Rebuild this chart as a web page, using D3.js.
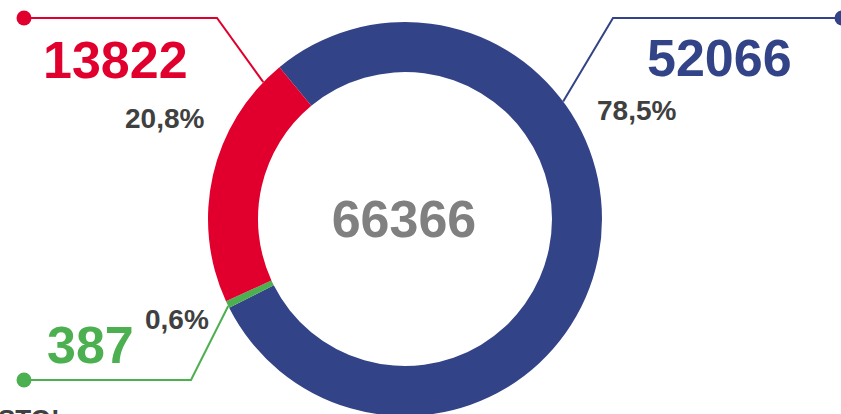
<!DOCTYPE html>
<meta charset="utf-8">
<style>
body { margin: 0; background: #fff; }
svg { display: block; font-family: Arial, "Liberation Sans", sans-serif; font-weight: bold; }
</style>
<svg width="841" height="414"></svg>
<script src="https://cdn.jsdelivr.net/npm/d3@7"></script>
<script>
// data
var keys = ["azul", "verde", "rojo"];
var values = [52066, 387, 13822];
var total = 66366;
var colors = ["#334387", "#4caf50", "#e1002d"];

var svg = d3.select("svg"),
    cx = 405, cy = 219,
    rOuter = 197, rInner = 147;

var g = svg.append("g").attr("transform", "translate(" + cx + "," + cy + ")");

var start = -39.6 * Math.PI / 180;
var pie = d3.pie().sort(null).startAngle(start).endAngle(start + 2 * Math.PI);
var arc = d3.arc().innerRadius(rInner).outerRadius(rOuter);

var arcs = pie(values);

g.selectAll("path.slice")
  .data(arcs)
  .enter().append("path")
    .attr("class", "slice")
    .attr("d", arc)
    .attr("fill", function(d, i) { return colors[i]; });

// leader lines: anchor angle on the ring, elbow, end dot
var leaders = [
  {angle: 53.4, elbow: [613, 18], dot: [842, 18], val: [647, 76], pct: [597, 120]},
  {angle: -116.2, elbow: [191, 380], dot: [24, 380], val: [47, 363], pct: [145, 329]},
  {angle: -46, elbow: [217, 18], dot: [24, 18], val: [43, 78], pct: [125, 128]}
];

var fmtPct = function(v) { return d3.format(".1f")(v * 100).replace(".", ",") + "%"; };

leaders.forEach(function(l, i) {
  var a = l.angle * Math.PI / 180;
  var p0 = [cx + rOuter * Math.sin(a), cy - rOuter * Math.cos(a)];
  svg.append("polyline")
    .attr("points", [p0, l.elbow, l.dot].map(function(p) { return p.join(","); }).join(" "))
    .attr("fill", "none")
    .attr("stroke", colors[i])
    .attr("stroke-width", 2);
  svg.append("circle")
    .attr("cx", l.dot[0]).attr("cy", l.dot[1]).attr("r", 7.5)
    .attr("fill", colors[i]);
  svg.append("text")
    .attr("x", l.val[0]).attr("y", l.val[1])
    .attr("fill", colors[i])
    .style("font-size", "52px")
    .text(values[i]);
  svg.append("text")
    .attr("x", l.pct[0]).attr("y", l.pct[1])
    .attr("fill", "#404040")
    .style("font-size", "28px")
    .text(fmtPct(values[i] / total));
});

// total in the middle
svg.append("text")
  .attr("x", 404).attr("y", 237)
  .attr("text-anchor", "middle")
  .attr("fill", "#808080")
  .style("font-size", "52px")
  .text(total);

// cut-off text at the bottom edge
svg.append("text")
  .attr("x", -2).attr("y", 428)
  .attr("fill", "#404040")
  .style("font-size", "26px")
  .text("STO!");
</script>
